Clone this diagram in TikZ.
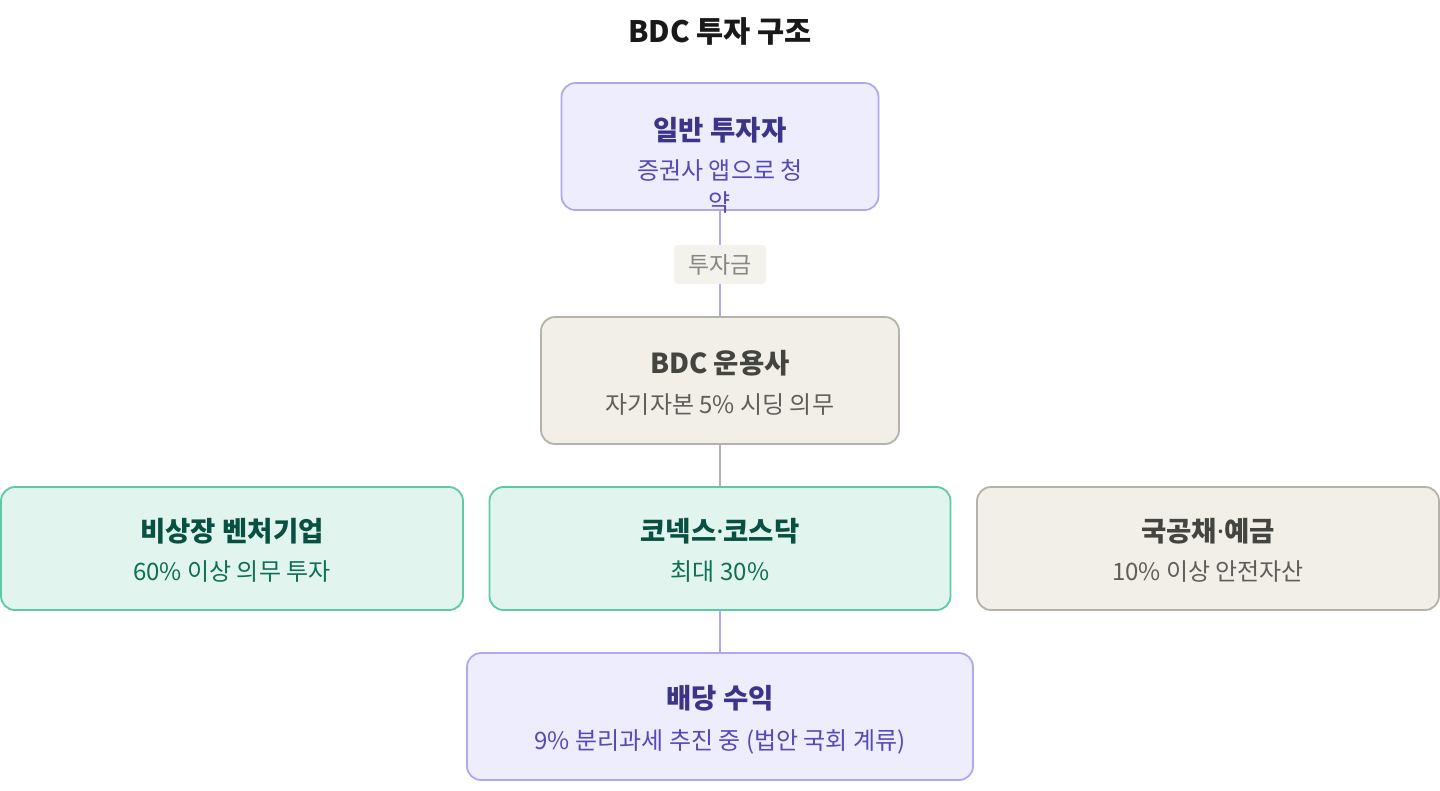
\documentclass[tikz,border=0pt]{standalone}
\usepackage{fontspec}
\setmainfont{Noto Sans CJK KR}
\newfontfamily\dotfont{Noto Sans}
\newcommand{\mdot}{{\dotfont ·}}
\definecolor{pfill}{HTML}{EEEDFE}
\definecolor{pdraw}{HTML}{AFA9EC}
\definecolor{ptitle}{HTML}{3C3489}
\definecolor{psub}{HTML}{534AB7}
\definecolor{bfill}{HTML}{F1EFE8}
\definecolor{bdraw}{HTML}{B4B2A9}
\definecolor{btitle}{HTML}{444441}
\definecolor{bsub}{HTML}{5F5E5A}
\definecolor{gfill}{HTML}{E1F5EE}
\definecolor{gdraw}{HTML}{5DCAA5}
\definecolor{gtitle}{HTML}{085041}
\definecolor{gsub}{HTML}{0F6E56}
\definecolor{lfill}{HTML}{F3F2EC}
\definecolor{ltext}{HTML}{888780}
\begin{document}
\begin{tikzpicture}[x=1pt,y=-1pt,
  box/.style={rectangle, rounded corners=14pt, line width=1.8pt, inner sep=0pt},
  pbox/.style={box, fill=pfill, draw=pdraw},
  bbox/.style={box, fill=bfill, draw=bdraw},
  gbox/.style={box, fill=gfill, draw=gdraw},
  ttl/.style={inner sep=0pt, font=\fontsize{27.5}{32}\selectfont\bfseries},
  sub/.style={inner sep=0pt, font=\fontsize{24}{28}\selectfont},
  pedge/.style={draw=pdraw, line width=1.8pt},
  bedge/.style={draw=bdraw, line width=1.8pt},
  lbl/.style={rectangle, rounded corners=4pt, fill=lfill, text=ltext, inner sep=0pt,
     minimum width=92pt, minimum height=39pt, font=\fontsize{23}{26}\selectfont}
]
\useasboundingbox (0,0) rectangle (1440,790);
\fill[white] (0,0) rectangle (1440,790);

\node[inner sep=0pt, font=\fontsize{29.5}{33}\selectfont\bfseries, text=black!90] (title) at (720,31) {BDC 투자 구조};

% boxes
\node[pbox, minimum width=317pt, minimum height=127pt] (inv) at (720,146.5) {};
\node[bbox, minimum width=358pt, minimum height=127pt] (bdc) at (720,380.5) {};
\node[gbox, minimum width=462pt, minimum height=123pt] (ven) at (232,548.5) {};
\node[gbox, minimum width=461pt, minimum height=123pt] (kos) at (720,548.5) {};
\node[bbox, minimum width=462pt, minimum height=123pt] (gov) at (1208,548.5) {};
\node[pbox, minimum width=506pt, minimum height=127pt] (div) at (720,716.5) {};

% connectors
\draw[pedge] (inv.south) -- (bdc.north) node[lbl, pos=0.51] (lab) {투자금};
\draw[bedge] (bdc.south) -- (kos.north);
\draw[pedge] (kos.south) -- (div.north);

% texts
\node[ttl, text=ptitle] (invT) at (720,130) {일반 투자자};
\node[sub, text=psub] (invS1) at (720,170) {증권사 앱으로 청};
\node[sub, text=psub] (invS2) at (720,203) {약};

\node[ttl, text=btitle] (bdcT) at (720,363) {BDC 운용사};
\node[sub, text=bsub] (bdcS) at (720,405) {자기자본 5\% 시딩 의무};

\node[ttl, text=gtitle] (venT) at (232,531) {비상장 벤처기업};
\node[sub, text=gsub] (venS) at (232,572) {60\% 이상 의무 투자};

\node[ttl, text=gtitle] (kosT) at (720,531) {코넥스\mdot 코스닥};
\node[sub, text=gsub] (kosS) at (720,572) {최대 30\%};

\node[ttl, text=btitle] (govT) at (1208,531) {국공채\mdot 예금};
\node[sub, text=bsub] (govS) at (1208,572) {10\% 이상 안전자산};

\node[ttl, text=ptitle] (divT) at (720,698) {배당 수익};
\node[sub, text=psub] (divS) at (720,742) {9\% 분리과세 추진 중 (법안 국회 계류)};
\end{tikzpicture}
\end{document}
